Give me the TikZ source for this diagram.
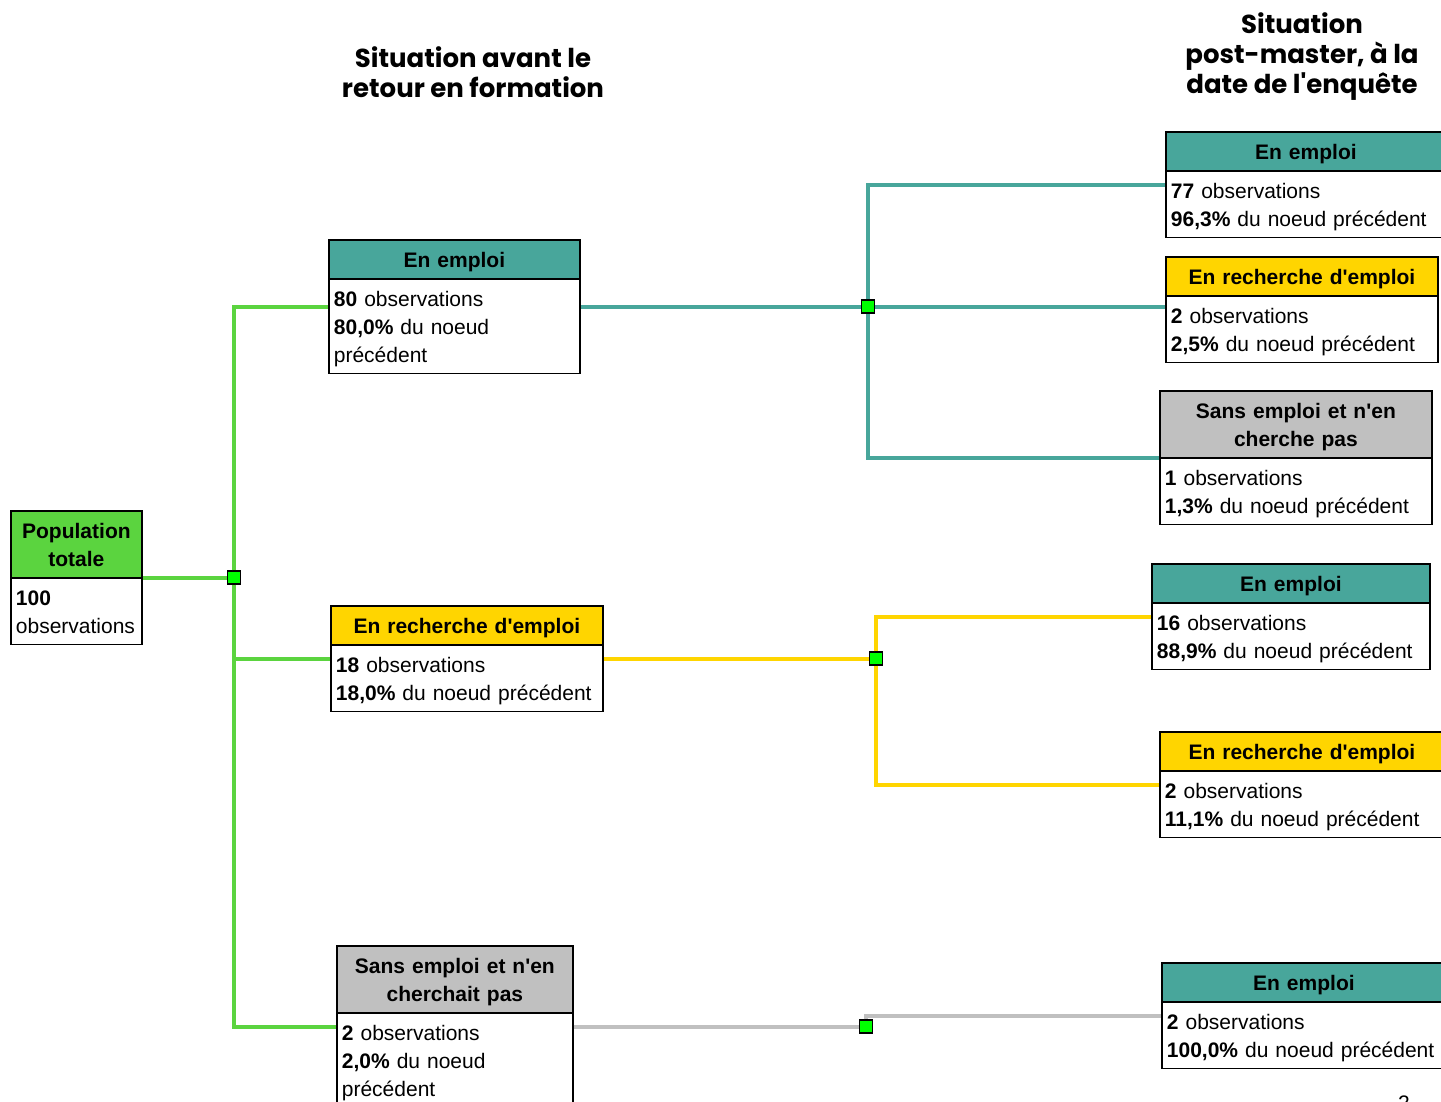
\documentclass[tikz,border=0pt]{standalone}
\usepackage{fontspec}
\setmainfont{Liberation Sans}
\newfontfamily\titlefont{Poppins}
\usepackage{xcolor}
\usetikzlibrary{shapes.multipart}

\definecolor{empcol}{HTML}{48A69B}
\definecolor{rechcol}{HTML}{FFD500}
\definecolor{sanscol}{HTML}{C0C0C0}
\definecolor{popcol}{HTML}{5BD43F}
\definecolor{juncol}{HTML}{00FF00}

\newcommand\boxstrut{\rule[-5.4pt]{0pt}{28pt}}

\begin{document}
\begin{tikzpicture}[x=1pt, y=-1pt,
    box/.style={rectangle split, rectangle split parts=2, draw=black,
      line width=1.8pt, anchor=north west, inner xsep=5pt, inner ysep=4.5pt,
      align=left, font=\fontsize{21}{28}\selectfont},
    popbox/.style={box, rectangle split part fill={popcol,white}},
    empbox/.style={box, rectangle split part fill={empcol,white}},
    rechbox/.style={box, rectangle split part fill={rechcol,white}},
    sansbox/.style={box, rectangle split part fill={sanscol,white}},
    junc/.style={draw=black, line width=1.5pt, fill=juncol, minimum size=13pt, inner sep=0pt},
    link/.style={line width=4pt},
    title/.style={align=center, font=\titlefont\bfseries\fontsize{26}{30}\selectfont}]
                \useasboundingbox (0,0) rectangle (1441,1102);

                % Titles
                \node[title] (title1) at (473,72) {Situation avant le\\retour en formation};
                \node[title] (title2) at (1302,57) {Situation\\post-master, à la\\date de l\textquotesingle enquête};

                % Root
                \node[popbox, text width=121pt] (root) at (10,510)
                    {\bfseries\makebox[\hsize]{\boxstrut Population}\\\makebox[\hsize]{totale\boxstrut}
                     \nodepart{two}\boxstrut\textbf{100}\\observations\boxstrut};

                % Situation avant le retour en formation
                \node[empbox, text width=241pt] (emp1) at (328,239)
                    {\bfseries\makebox[\hsize]{\boxstrut En emploi}
                     \nodepart{two}\boxstrut\textbf{80} observations\\\textbf{80,0\%} du noeud\\précédent\boxstrut};
                \node[rechbox, text width=262pt] (rech1) at (330,605)
                    {\bfseries\makebox[\hsize]{\boxstrut En recherche d\textquotesingle emploi}
                     \nodepart{two}\boxstrut\textbf{18} observations\\\textbf{18,0\%} du noeud précédent\boxstrut};
                \node[sansbox, text width=226pt] (sans1) at (336,945)
                    {\bfseries\makebox[\hsize]{\boxstrut Sans emploi et n\textquotesingle en}\\\makebox[\hsize]{cherchait pas\boxstrut}
                     \nodepart{two}\boxstrut\textbf{2} observations\\\textbf{2,0\%} du noeud\\précédent\boxstrut};

                % Situation post-master
                \node[empbox, text width=270pt] (emp11) at (1165,131)
                    {\bfseries\makebox[\hsize]{\boxstrut En emploi}
                     \nodepart{two}\boxstrut\textbf{77} observations\\\textbf{96,3\%} du noeud précédent\boxstrut};
                \node[rechbox, text width=262pt] (rech11) at (1165,256)
                    {\bfseries\makebox[\hsize]{\boxstrut En recherche d\textquotesingle emploi}
                     \nodepart{two}\boxstrut\textbf{2} observations\\\textbf{2,5\%} du noeud précédent\boxstrut};
                \node[sansbox, text width=262pt] (sans11) at (1159,390)
                    {\bfseries\makebox[\hsize]{\boxstrut Sans emploi et n\textquotesingle en}\\\makebox[\hsize]{cherche pas\boxstrut}
                     \nodepart{two}\boxstrut\textbf{1} observations\\\textbf{1,3\%} du noeud précédent\boxstrut};
                \node[empbox, text width=268pt] (emp21) at (1151,563)
                    {\bfseries\makebox[\hsize]{\boxstrut En emploi}
                     \nodepart{two}\boxstrut\textbf{16} observations\\\textbf{88,9\%} du noeud précédent\boxstrut};
                \node[rechbox, text width=274pt] (rech21) at (1159,731)
                    {\bfseries\makebox[\hsize]{\boxstrut En recherche d\textquotesingle emploi}
                     \nodepart{two}\boxstrut\textbf{2} observations\\\textbf{11,1\%} du noeud précédent\boxstrut};
                \node[empbox, text width=274pt] (emp31) at (1161,962)
                    {\bfseries\makebox[\hsize]{\boxstrut En emploi}
                     \nodepart{two}\boxstrut\textbf{2} observations\\\textbf{100,0\%} du noeud précédent\boxstrut};

                % Junctions
                \node[junc] (j0) at (root.east -| 234,0) {};
                \node[junc] (j1) at (emp1.east -| 868,0) {};
                \node[junc] (j2) at (rech1.east -| 876,0) {};
                \node[junc] (j3) at (sans1.east -| 866,0) {};

                % Links from the root
                \draw[link, popcol] (root) -- (j0);
                \draw[link, popcol] (j0) |- (emp1);
                \draw[link, popcol] (j0) |- (rech1);
                \draw[link, popcol] (j0) |- (sans1);
                % Links from En emploi
                \draw[link, empcol] (emp1) -- (j1);
                \draw[link, empcol] (j1) |- (emp11);
                \draw[link, empcol] (j1) -- (j1 -| rech11.west);
                \draw[link, empcol] (j1) |- (sans11);
                % Links from En recherche d'emploi
                \draw[link, rechcol] (rech1) -- (j2);
                \draw[link, rechcol] (j2) |- (emp21);
                \draw[link, rechcol] (j2) |- (rech21);
                % Links from Sans emploi
                \draw[link, sanscol] (sans1) -- (j3);
                \draw[link, sanscol] (j3) |- (emp31);

                % Page number
                \node[font=\fontsize{21}{28}\selectfont, anchor=base] (pagenum) at (1404,1110) {2};
\end{tikzpicture}
\end{document}
